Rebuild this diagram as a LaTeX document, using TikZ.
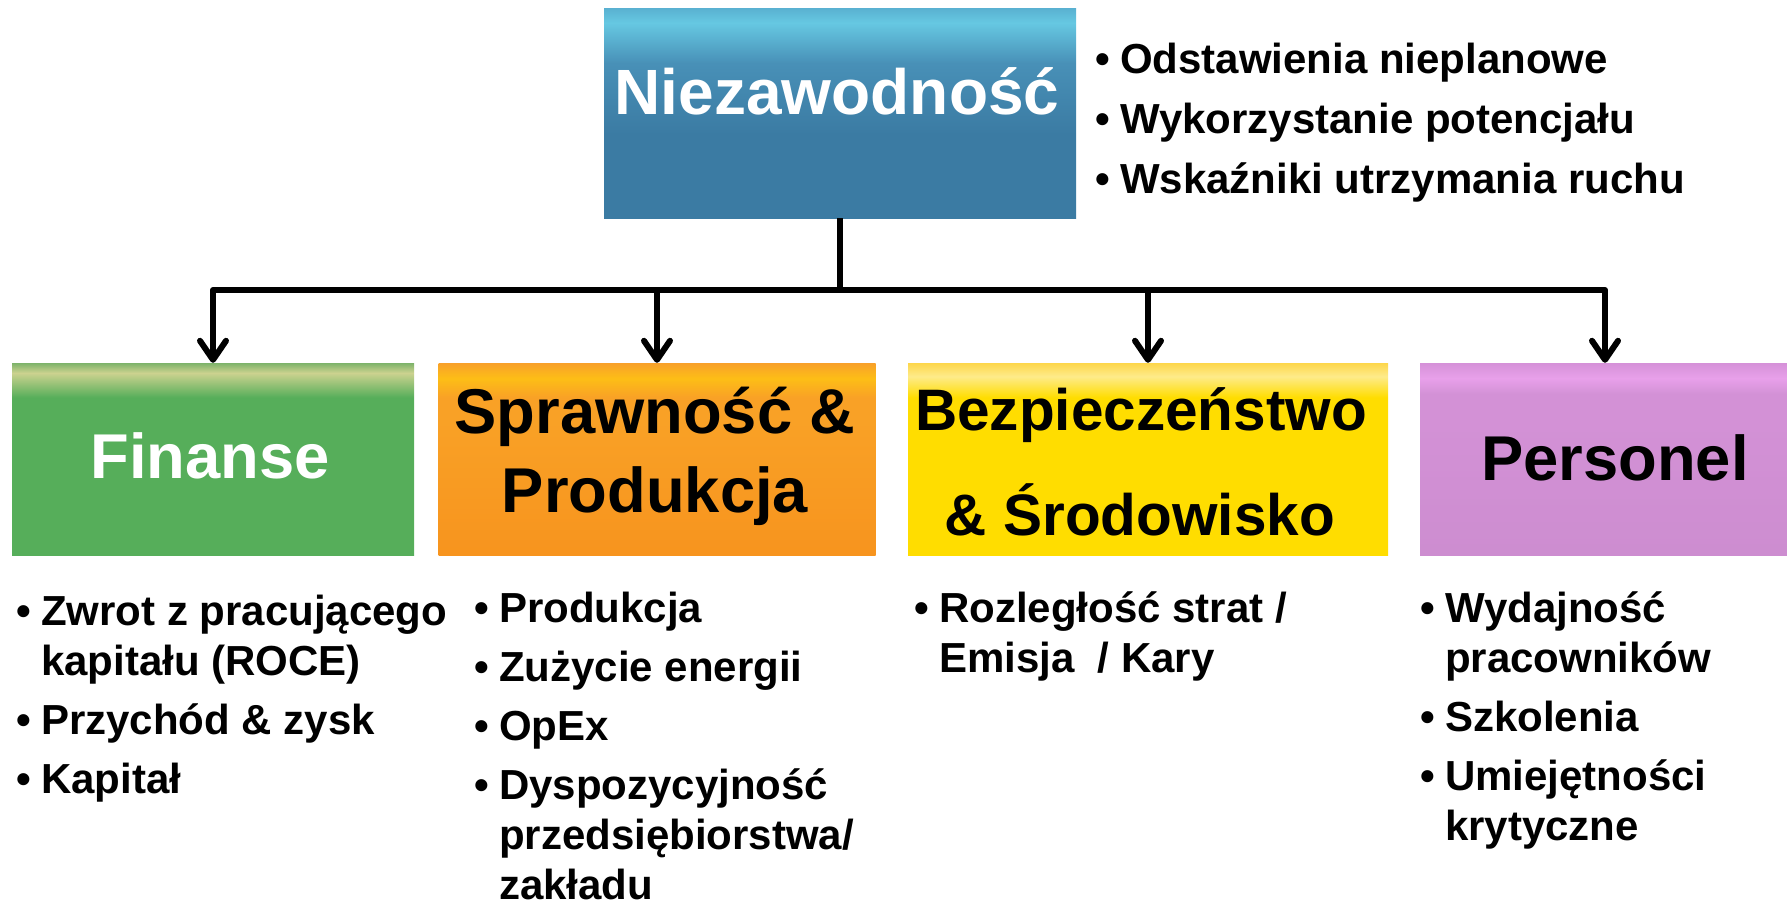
\documentclass[tikz,border=0pt]{standalone}
\usepackage{fontspec}
\setmainfont{Liberation Sans}
\usetikzlibrary{arrows.meta}
\definecolor{bTop}{HTML}{5AB2D2}
\definecolor{bBand}{HTML}{66C8E2}
\definecolor{bMid}{HTML}{4890B7}
\definecolor{bBot}{HTML}{3B7BA3}
\definecolor{gTop}{HTML}{7DB36A}
\definecolor{gBand}{HTML}{CCD28F}
\definecolor{gMain}{HTML}{56AE5A}
\definecolor{oTop}{HTML}{F8A02A}
\definecolor{oBand}{HTML}{FDBE16}
\definecolor{oMain}{HTML}{F9A126}
\definecolor{oBot}{HTML}{F7941E}
\definecolor{yTop}{HTML}{FDD64A}
\definecolor{yBand}{HTML}{FEEB8A}
\definecolor{yMain}{HTML}{FFDD00}
\definecolor{pTop}{HTML}{D591D8}
\definecolor{pBand}{HTML}{E8A0EA}
\definecolor{pMain}{HTML}{D391D6}
\definecolor{pBot}{HTML}{CD8DD0}
% vertical shadings: 25bp = bottom of box, 75bp = top of box
\pgfdeclareverticalshading{topshade}{100bp}{color(0bp)=(bBot); color(25bp)=(bBot); color(45bp)=(bBot); color(62bp)=(bMid); color(71.7bp)=(bBand); color(75bp)=(bTop); color(100bp)=(bTop)}
\pgfdeclareverticalshading{finshade}{100bp}{color(0bp)=(gMain); color(25bp)=(gMain); color(66bp)=(gMain); color(72.4bp)=(gBand); color(75bp)=(gTop); color(100bp)=(gTop)}
\pgfdeclareverticalshading{spshade}{100bp}{color(0bp)=(oBot); color(25bp)=(oBot); color(60bp)=(oMain); color(66bp)=(oMain); color(71bp)=(oBand); color(75bp)=(oTop); color(100bp)=(oTop)}
\pgfdeclareverticalshading{bzshade}{100bp}{color(0bp)=(yMain); color(25bp)=(yMain); color(66bp)=(yMain); color(71.5bp)=(yBand); color(75bp)=(yTop); color(100bp)=(yTop)}
\pgfdeclareverticalshading{pershade}{100bp}{color(0bp)=(pBot); color(25bp)=(pBot); color(60bp)=(pMain); color(67bp)=(pMain); color(71bp)=(pBand); color(75bp)=(pTop); color(100bp)=(pTop)}
\newcommand{\bitem}[1]{\hbox{\makebox[25pt][l]{•}#1}}
\newcommand{\bcont}[1]{\hbox{\hspace*{25pt}#1}}
\begin{document}
\begin{tikzpicture}[x=1pt,y=-1pt,
  box/.style={rectangle, draw=none, inner sep=0pt, minimum height=192pt},
  title/.style={anchor=base, inner sep=0pt, font=\fontsize{63.3}{70}\selectfont\bfseries},
  btitle/.style={title, font=\fontsize{58.5}{66}\selectfont\bfseries},
  blist/.style={anchor=base west, inner sep=0pt, font=\fontsize{42}{50}\selectfont\bfseries},
  conn/.style={line width=6pt, line join=round, black},
  arr/.style={conn, -{Straight Barb[length=19pt, width=26pt, line cap=round, line join=round]}}]
\useasboundingbox (0,0) rectangle (1787,904);
% top box
\node[box, shading=topshade, minimum width=472pt, minimum height=209pt] (top) at (840,113.5) {};
\node[title, text=white, font=\fontsize{64}{70}\selectfont\bfseries] (topT) at (837,115) {Niezawodność};
\node[blist] (topL) at (1095,74) {\vtop{\baselineskip=60pt
  \bitem{Odstawienia nieplanowe}\bitem{Wykorzystanie potencjału}\bitem{Wskaźniki utrzymania ruchu}}};
% category boxes
\node[box, shading=finshade, minimum width=402pt] (fin) at (213,459) {};
\node[box, shading=spshade, minimum width=437pt] (spr) at (657,459) {};
\node[box, shading=bzshade, minimum width=480pt] (bez) at (1148,459) {};
\node[box, shading=pershade, minimum width=370pt] (per) at (1605,459) {};
\node[title, text=white] (finT) at (210,478) {Finanse};
\node[title] (sprT1) at (655,433) {Sprawność \&};
\node[title] (sprT2) at (655,512) {Produkcja};
\node[btitle] (bezT1) at (1141,430) {Bezpieczeństwo};
\node[btitle] (bezT2) at (1140,535) {\& Środowisko};
\node[title] (perT) at (1615,480) {Personel};
% connectors
\coordinate (hub) at (840,290);
\draw[conn] (top.south) -- (hub);
\draw[arr] (hub) -| (fin.north);
\draw[arr] (hub) -| (spr.north);
\draw[arr] (hub) -| (bez.north);
\draw[arr] (hub) -| (per.north);
% bullet lists
\node[blist] (finL) at (16,625) {\vtop{\baselineskip=50pt
  \bitem{Zwrot z pracującego}\bcont{kapitału (ROCE)}\vskip9pt
  \bitem{Przychód \& zysk}\vskip9pt
  \bitem{Kapitał}}};
\node[blist] (sprL) at (474,622) {\vtop{\baselineskip=50pt
  \bitem{Produkcja}\vskip9pt
  \bitem{Zużycie energii}\vskip9pt
  \bitem{OpEx}\vskip9pt
  \bitem{Dyspozycyjność}\bcont{przedsiębiorstwa/}\bcont{zakładu}}};
\node[blist] (bezL) at (914,622) {\vtop{\baselineskip=50pt
  \bitem{Rozległość strat /}\bcont{Emisja\ \ / Kary}}};
\node[blist] (perL) at (1420,622) {\vtop{\baselineskip=50pt
  \bitem{Wydajność}\bcont{pracowników}\vskip9pt
  \bitem{Szkolenia}\vskip9pt
  \bitem{Umiejętności}\bcont{krytyczne}}};
\end{tikzpicture}
\end{document}
